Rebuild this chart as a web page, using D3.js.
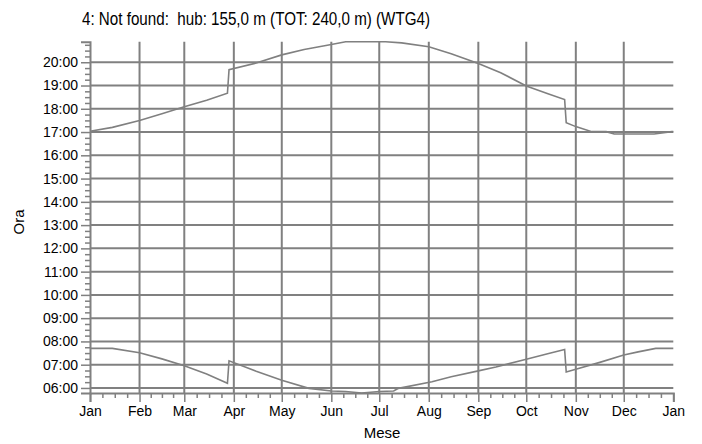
<!DOCTYPE html>
<html>
<head>
<meta charset="utf-8">
<script src="https://cdn.jsdelivr.net/npm/d3@7"></script>
<style>
  body { margin: 0; background: #fff; }
  svg { display: block; }
</style>
</head>
<body>
<script>
'use strict';

// tick labels
let months = ["Jan", "Feb", "Mar", "Apr", "May", "Jun", "Jul", "Aug", "Sep", "Oct", "Nov", "Dec", "Jan"];
let hourLabels = ["06:00", "07:00", "08:00", "09:00", "10:00", "11:00", "12:00", "13:00",
                  "14:00", "15:00", "16:00", "17:00", "18:00", "19:00", "20:00"];

// sunset (upper curve)
let sunsetDays  = ["01-01", "01-15", "02-01", "02-15", "03-01", "03-15", "03-28", "03-29",
                   "04-15", "05-01", "05-15", "06-01", "06-10", "07-05", "07-15", "08-01",
                   "08-15", "09-01", "09-15", "10-01", "10-15", "10-25", "10-26", "11-01",
                   "11-11", "11-20", "11-25", "12-10", "12-20", "12-31"];
let sunsetTimes = ["17:02", "17:12", "17:30", "17:47", "18:05", "18:22", "18:40", "19:41",
                   "19:58", "20:19", "20:33", "20:46", "20:53", "20:53", "20:50", "20:40",
                   "20:22", "19:57", "19:33", "18:59", "18:38", "18:24", "17:24", "17:14",
                   "17:01", "17:01", "16:55", "16:55", "16:55", "17:01"];

// sunrise (lower curve)
let sunriseDays  = ["01-01", "01-15", "02-01", "02-15", "03-01", "03-15", "03-28", "03-29",
                    "04-15", "05-01", "05-18", "06-01", "06-10", "06-20", "07-01", "07-10",
                    "07-13", "08-03", "08-15", "09-01", "09-12", "10-01", "10-15", "10-25",
                    "10-26", "11-01", "11-16", "12-01", "12-10", "12-21", "12-31"];
let sunriseTimes = ["07:42", "07:42", "07:31", "07:15", "06:57", "06:36", "06:12", "07:10",
                    "06:43", "06:20", "05:59", "05:52", "05:51", "05:47", "05:51", "05:52",
                    "05:59", "06:16", "06:29", "06:44", "06:54", "07:14", "07:29", "07:39",
                    "06:41", "06:48", "07:06", "07:25", "07:33", "07:42", "07:42"];

let yearStart = new Date(2021, 0, 1);
let yearEnd = new Date(2022, 0, 1);
let yMinTime = "05:47";
let yMaxTime = "20:53";

(function() {
  let width = 702, height = 444;
  let left = 90, right = 673.3, top = 41.7, bottom = 393;
  let gray = '#808080';

  let toDate = (s) => new Date(2021, +s.slice(0, 2) - 1, +s.slice(3, 5));
  let toMin = (s) => +s.slice(0, 2) * 60 + +s.slice(3, 5);

  let svg = d3.select('body').append('svg')
    .attr('width', width)
    .attr('height', height)
    .style('font-family', '"Liberation Sans", Arial, sans-serif');

  let xScale = d3.scaleTime().domain([yearStart, yearEnd]).range([left, right]);
  let yScale = d3.scaleLinear().domain([toMin(yMinTime), toMin(yMaxTime)]).range([bottom, top]);

  let monthTicks = d3.timeMonth.range(yearStart, d3.timeDay.offset(yearEnd, 1));
  let hourTicks = hourLabels.map(toMin);

  // minor ticks: quarter months, quarter hours
  let quarterTicks = [];
  monthTicks.slice(0, -1).forEach((m, i) => {
    let next = monthTicks[i + 1];
    for (let k = 1; k < 4; k++) {
      quarterTicks.push(new Date(+m + (next - m) * k / 4));
    }
  });
  let minorY = d3.range(toMin(yMinTime), toMin(yMaxTime) + 1)
    .filter((m) => m % 15 == 0 && m % 60 != 0);

  // grid
  svg.append('g').selectAll('line')
    .data(hourTicks)
    .enter().append('line')
      .attr('x1', left).attr('x2', right)
      .attr('y1', (d) => yScale(d)).attr('y2', (d) => yScale(d))
      .attr('stroke', gray).attr('stroke-width', 2);

  svg.append('g').selectAll('line')
    .data(monthTicks.slice(1, -1))
    .enter().append('line')
      .attr('x1', (d) => xScale(d)).attr('x2', (d) => xScale(d))
      .attr('y1', top).attr('y2', bottom)
      .attr('stroke', gray).attr('stroke-width', 2);

  // curves
  let line = d3.line()
    .x((d) => xScale(d.date))
    .y((d) => yScale(d.min));

  let sunset = sunsetDays.map((d, i) => ({ date: toDate(d), min: toMin(sunsetTimes[i]) }));
  let sunrise = sunriseDays.map((d, i) => ({ date: toDate(d), min: toMin(sunriseTimes[i]) }));
  sunset.push({ date: yearEnd, min: toMin(sunsetTimes[sunsetTimes.length - 1]) });
  sunrise.push({ date: yearEnd, min: toMin(sunriseTimes[sunriseTimes.length - 1]) });

  [sunset, sunrise].forEach((s) => {
    svg.append('path')
      .datum(s)
      .attr('d', line)
      .attr('fill', 'none')
      .attr('stroke', gray)
      .attr('stroke-width', 1.6);
  });

  // x axis
  svg.append('g')
    .attr('transform', `translate(0, ${bottom})`)
    .call(d3.axisBottom(xScale)
      .tickValues(monthTicks)
      .tickFormat((d, i) => months[i])
      .tickSize(9)
      .tickPadding(4));
  svg.append('g')
    .attr('transform', `translate(0, ${bottom})`)
    .call(d3.axisBottom(xScale).tickValues(quarterTicks).tickFormat('').tickSize(5))
    .call((g) => g.select('.domain').remove());

  // y axis
  svg.append('g')
    .attr('transform', `translate(${left}, 0)`)
    .call(d3.axisLeft(yScale)
      .tickValues(hourTicks)
      .tickFormat((d, i) => hourLabels[i])
      .tickSize(9)
      .tickPadding(3));
  svg.append('g')
    .attr('transform', `translate(${left}, 0)`)
    .call(d3.axisLeft(yScale).tickValues(minorY).tickFormat('').tickSize(5))
    .call((g) => g.select('.domain').remove());

  svg.selectAll('.domain')
    .attr('stroke', gray).attr('stroke-width', 2);
  svg.selectAll('.tick line')
    .attr('stroke', gray).attr('stroke-width', 1.5);
  svg.selectAll('.tick text')
    .attr('fill', '#000')
    .style('font-size', '14px')
    .style('font-family', '"Liberation Sans", Arial, sans-serif');

  // labels
  svg.append('text')
    .attr('x', 82)
    .attr('y', 25)
    .attr('textLength', 348)
    .attr('lengthAdjust', 'spacingAndGlyphs')
    .style('font-size', '19px')
    .style('white-space', 'pre')
    .attr('fill', '#000')
    .text('4: Not found:  hub: 155,0 m (TOT: 240,0 m) (WTG4)');

  svg.append('text')
    .attr('x', 382)
    .attr('y', 438)
    .attr('text-anchor', 'middle')
    .style('font-size', '15px')
    .attr('fill', '#000')
    .text('Mese');

  svg.append('text')
    .attr('transform', 'translate(24, 222)rotate(-90)')
    .attr('text-anchor', 'middle')
    .style('font-size', '15px')
    .attr('fill', '#000')
    .text('Ora');
})();
</script>
</body>
</html>
